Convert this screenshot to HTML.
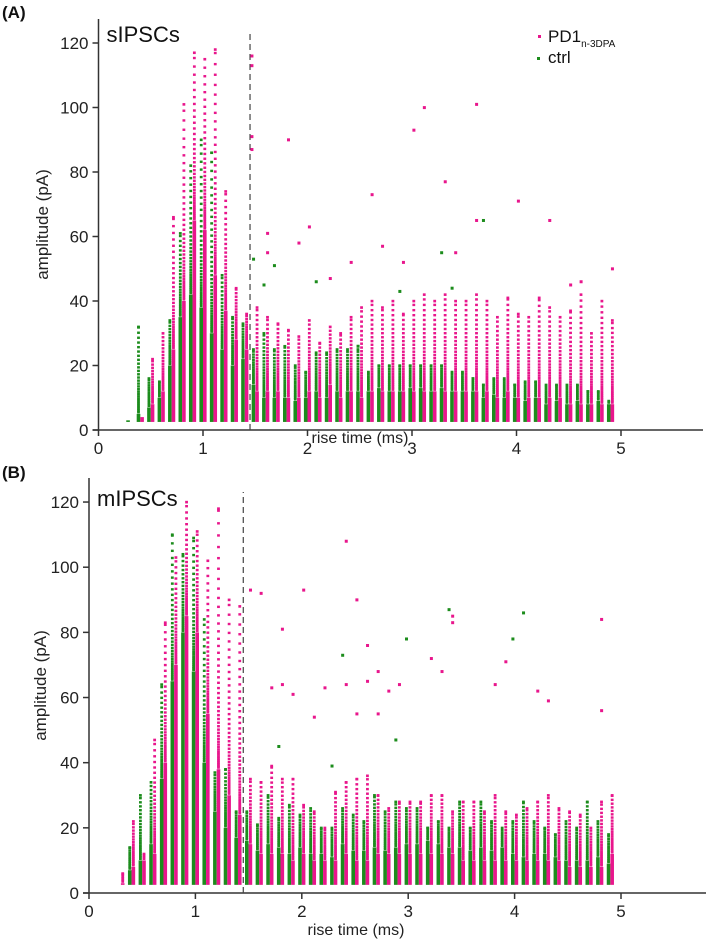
<!DOCTYPE html>
<html><head><meta charset="utf-8"><style>
body{margin:0;background:#fff;width:709px;height:941px;overflow:hidden}
svg{display:block;font-family:"Liberation Sans",sans-serif}
</style></head><body>
<svg id="fig" width="709" height="941"></svg>
<script>
// ---------- data ----------
const riseTimes = [0.3,0.4,0.5,0.6,0.7,0.8,0.9,1.0,1.1,1.2,1.3,1.4,1.5,1.6,1.7,1.8,1.9,2.0,2.1,2.2,2.3,2.4,2.5,2.6,2.7,2.8,2.9,3.0,3.1,3.2,3.3,3.4,3.5,3.6,3.7,3.8,3.9,4.0,4.1,4.2,4.3,4.4,4.5,4.6,4.7,4.8,4.9];
// Panel A (sIPSCs)
const aCtrlDense = [3,5,7,10,20,35,42,38,30,25,20,22,14,10,10,10,9,10,12,10,12,12,12,12,13,12,12,13,13,12,13,12,12,12,10,11,10,10,9,10,8,9,8,9,8,9,8];
const aCtrlMax   = [3,32,16,15,34,61,82,90,86,48,35,33,25,30,25,26,20,18,24,24,25,25,25,18,20,20,20,20,20,20,20,18,18,16,14,16,16,14,15,15,14,14,14,14,12,12,9];
const aPdDense   = [0,4,8,12,25,40,65,62,48,37,28,25,12,12,12,10,10,12,10,14,10,12,10,12,12,12,12,12,12,12,12,12,12,12,12,10,12,10,10,10,10,10,8,8,8,8,8];
const aPdMax     = [0,4,22,30,66,101,117,115,118,74,44,36,38,35,33,31,29,34,27,32,30,35,38,40,38,40,36,40,42,40,42,40,40,42,40,35,41,36,35,41,38,35,37,42,30,40,34];
const aPdOutX = [1.45,1.45,1.45,1.45,1.6,1.6,1.8,1.9,2.0,2.2,2.4,2.6,2.7,2.9,3.0,3.1,3.3,3.4,3.6,3.6,4.0,4.3,4.5,4.6,4.9];
const aPdOutY = [116,113,91,87,61,55,90,58,63,47,52,73,57,52,93,100,77,55,101,65,71,65,45,46,50];
const aCtrlOutX = [1.5,1.6,1.7,2.1,2.5,3.3,3.7,3.4,2.9];
const aCtrlOutY = [53,45,51,46,26,55,65,44,43];
// Panel B (mIPSCs)
const bCtrlDense = [0,7,10,15,35,65,80,68,40,25,20,17,16,13,15,14,12,14,12,12,11,15,13,13,14,13,14,15,15,16,15,14,14,13,14,13,14,12,11,12,12,11,10,10,10,11,9];
const bCtrlMax   = [0,14,30,34,64,110,104,109,84,37,38,25,25,21,30,23,27,24,26,20,20,26,24,22,30,25,28,26,26,20,22,20,28,20,28,22,20,22,28,22,20,18,22,20,28,22,18];
const bPdDense   = [0,8,10,12,40,70,85,80,55,38,30,24,15,12,12,12,10,12,10,10,10,12,10,10,12,12,12,12,12,12,12,12,10,10,10,10,10,10,10,10,10,10,8,8,8,8,12];
const bPdMax     = [6,22,12,47,83,103,120,111,102,118,90,88,35,34,39,35,35,27,25,20,31,34,35,36,30,26,28,28,28,30,30,25,28,28,25,30,25,24,26,28,30,26,25,24,20,28,30];
const bPdOutX = [1.5,1.6,1.7,1.8,1.8,1.9,2.0,2.1,2.2,2.4,2.4,2.5,2.5,2.6,2.6,2.7,2.8,2.9,3.2,3.3,3.4,3.4,3.8,3.9,4.3,4.2,4.8,4.8,2.7];
const bPdOutY = [93,92,63,81,64,61,93,54,63,108,64,90,55,76,65,68,62,64,72,68,85,83,64,71,59,62,84,56,55];
const bCtrlOutX = [1.8,2.3,2.4,3.0,3.4,4.0,4.1,2.9];
const bCtrlOutY = [45,39,73,78,87,78,86,47];
const yTicks = [0,20,40,60,80,100,120];
const xTicks = [0,1,2,3,4,5];

// ---------- drawing ----------
const NS="http://www.w3.org/2000/svg";
const svg=document.getElementById('fig');
const PINK="#e8168c", GREEN="#1c8c1c";
function el(tag,attrs,parent){const e=document.createElementNS(NS,tag);for(const k in attrs)e.setAttribute(k,attrs[k]);(parent||svg).appendChild(e);return e;}

function panel(p){
  const g=el('g',{});
  
  
  const X=v=>p.x0+v*p.sx, Y=v=>p.y0-v*p.sy;
  const ya=el('line',{x1:p.x0,y1:p.y0,x2:p.x0,y2:p.yTop,stroke:'#333','stroke-width':1.5},g);
  
  const xa=el('line',{x1:p.x0-6,y1:p.y0,x2:p.xEnd,y2:p.y0,stroke:'#333','stroke-width':1.5},g);
  
  yTicks.forEach(t=>{
    el('line',{x1:p.x0-6,x2:p.x0,y1:Y(t),y2:Y(t),stroke:'#333','stroke-width':1.5},g);
    const tx=el('text',{x:p.x0-10,y:Y(t)+6,'text-anchor':'end','font-size':17,fill:'#222'},g);
    tx.textContent=t;
    
  });
  xTicks.forEach(t=>{
    el('line',{x1:X(t),x2:X(t),y1:p.y0,y2:p.y0+6,stroke:'#333','stroke-width':1.5},g);
    const tx=el('text',{x:X(t),y:p.y0+24,'text-anchor':'middle','font-size':17,fill:'#222'},g);
    tx.textContent=t;
    
  });
  const xl=el('text',{x:p.xlX,y:p.xlY,'text-anchor':'middle','font-size':16,fill:'#222'},g);
  xl.textContent='rise time (ms)';
  
  const yl=el('text',{x:0,y:0,'text-anchor':'middle','font-size':17,fill:'#222',transform:`translate(${p.ylX},${(p.y0+p.yTop)/2}) rotate(-90)`},g);
  yl.textContent='amplitude (pA)';
  
  const pl=el('text',{x:2,y:p.plY,'font-size':17,'font-weight':'bold',fill:'#111'},g);
  pl.textContent=p.letter;
  
  const tt=el('text',{x:p.x0+8,y:p.ttY,'font-size':22,fill:'#111'},g);
  tt.textContent=p.title;
  
  const dl=el('line',{x1:X(1.45),x2:X(1.45),y1:p.y0,y2:p.dashTop,stroke:'#444','stroke-width':1.2,'stroke-dasharray':'6,4'},g);
  
  function series(dense,max,off,color,nm){
    riseTimes.forEach((t,i)=>{
      if(max[i]<=0)return;
      const cx=X(t)+off;
      const top=Math.max(dense[i],3);
      const r=el('rect',{x:cx-1.8,y:Y(top),width:3.6,height:Y(2.5)-Y(top),fill:color},g);
      
      
      // sparse dots: spacing grows with distance above dense top
      let py=Y(top), limit=Y(max[i]);
      let step=1.6;
      while(py-step>=limit){
        py-=step;
        const d=el('rect',{x:cx-1.4,y:py-1.2,width:2.8,height:2.4,fill:color},g);
        
        
        step=1.6+0.045*(Y(top)-py);
      }
      if(max[i]>top){
        const d=el('rect',{x:cx-1.4,y:Y(max[i])-1.2,width:2.8,height:2.6,fill:color},g);
        
        
      }
    });
  }
  function outliers(xs,ys,off,color,nm){
    xs.forEach((t,i)=>{
      const d=el('rect',{x:X(t)+off-1.4,y:Y(ys[i])-1.4,width:3,height:3,fill:color},g);
      
      
    });
  }
  series(p.cd,p.cm,-1.8,GREEN,'ctrl');
  series(p.pd,p.pm,1.8,PINK,'pd1');
  outliers(p.cox,p.coy,-1.8,GREEN,'ctrl');
  outliers(p.pox,p.poy,1.8,PINK,'pd1');
}

panel({name:'panel-a',letter:'(A)',title:'sIPSCs',x0:98.5,sx:104.5,y0:430,sy:3.225,yTop:19,xEnd:703,
  xlX:360,xlY:443,ylX:48,plY:18,ttY:42,dashTop:34,
  cd:aCtrlDense,cm:aCtrlMax,pd:aPdDense,pm:aPdMax,cox:aCtrlOutX,coy:aCtrlOutY,pox:aPdOutX,poy:aPdOutY});
panel({name:'panel-b',letter:'(B)',title:'mIPSCs',x0:89,sx:106.4,y0:893,sy:3.258,yTop:478,xEnd:706,
  xlX:356,xlY:935,ylX:46,plY:478,ttY:506,dashTop:492,
  cd:bCtrlDense,cm:bCtrlMax,pd:bPdDense,pm:bPdMax,cox:bCtrlOutX,coy:bCtrlOutY,pox:bPdOutX,poy:bPdOutY});

const lg=el('g',{});


el('rect',{x:538,y:35,width:3,height:3,fill:PINK},lg);
const l1=el('text',{x:548,y:42,'font-size':17,fill:'#111'},lg);


l1.innerHTML='PD1<tspan font-size="10" dy="5">n-3DPA</tspan>';
el('rect',{x:537,y:57,width:3,height:3,fill:GREEN},lg);
const l2=el('text',{x:548,y:63,'font-size':17,fill:'#111'},lg);


l2.textContent='ctrl';
</script>
</body></html>
